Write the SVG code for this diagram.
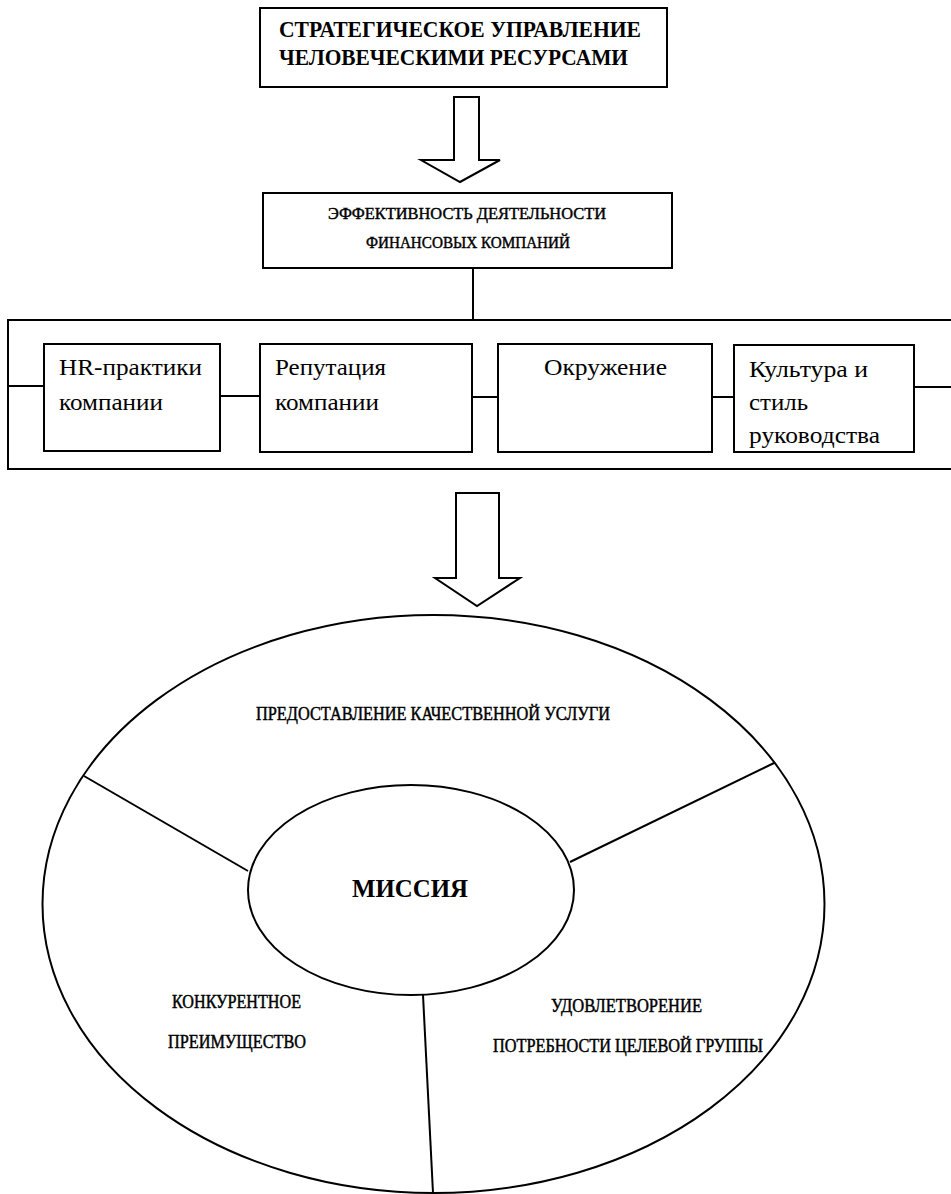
<svg xmlns="http://www.w3.org/2000/svg" width="951" height="1194" viewBox="0 0 951 1194">
<style>
.box{fill:#fff;stroke:#000;stroke-width:2}
.ln{fill:none;stroke:#000;stroke-width:2}
.t{font-family:"Liberation Serif","DejaVu Serif","Times New Roman",serif;fill:#000}
.tc{font-family:"Liberation Serif","DejaVu Serif","Times New Roman",serif;fill:#000;stroke:#000;stroke-width:0.45}
.tb{font-family:"Liberation Serif","DejaVu Serif","Times New Roman",serif;font-weight:bold;fill:#000}
.arrow{fill:#fff;stroke:#000;stroke-width:2;stroke-linejoin:miter}
</style>
<rect width="951" height="1194" fill="#fff"/>
<g id="connectors">
<polygon class="arrow" points="454,97 479,97 479,160 500,160 460,182 421,160 454,160"/>
<line class="ln" x1="473" y1="268" x2="473" y2="320"/>
<path class="ln" d="M951,320 H8 V469 H951"/>
<line class="ln" x1="8" y1="386" x2="44" y2="386"/>
<line class="ln" x1="220" y1="396" x2="260" y2="396"/>
<line class="ln" x1="472" y1="397" x2="498" y2="397"/>
<line class="ln" x1="712" y1="397" x2="734" y2="397"/>
<line class="ln" x1="914" y1="387" x2="951" y2="387"/>
<polygon class="arrow" points="456,493 499,493 499,578 520,578 477,606 435,578 456,578"/>
</g>
<g id="strategic">
<rect class="box" x="260" y="8" width="407" height="79"/>
<text class="tb" font-size="23" x="279" y="37" textLength="362" lengthAdjust="spacingAndGlyphs">СТРАТЕГИЧЕСКОЕ УПРАВЛЕНИЕ</text>
<text class="tb" font-size="23" x="279" y="65" textLength="349" lengthAdjust="spacingAndGlyphs">ЧЕЛОВЕЧЕСКИМИ РЕСУРСАМИ</text>
</g>
<g id="efficiency">
<rect class="box" x="263" y="193" width="409" height="75"/>
<text class="tc" font-size="17" x="328" y="219" textLength="278" lengthAdjust="spacingAndGlyphs">ЭФФЕКТИВНОСТЬ ДЕЯТЕЛЬНОСТИ</text>
<text class="tc" font-size="17" x="366" y="248" textLength="204" lengthAdjust="spacingAndGlyphs">ФИНАНСОВЫХ КОМПАНИЙ</text>
</g>
<g id="hr">
<rect class="box" x="44" y="344" width="176" height="107"/>
<text class="t" font-size="23" x="59" y="375" textLength="143" lengthAdjust="spacingAndGlyphs">HR-практики</text>
<text class="t" font-size="23" x="59" y="410" textLength="104" lengthAdjust="spacingAndGlyphs">компании</text>
</g>
<g id="reputation">
<rect class="box" x="260" y="344" width="212" height="108"/>
<text class="t" font-size="23" x="275" y="375" textLength="111" lengthAdjust="spacingAndGlyphs">Репутация</text>
<text class="t" font-size="23" x="275" y="410" textLength="104" lengthAdjust="spacingAndGlyphs">компании</text>
</g>
<g id="environment">
<rect class="box" x="498" y="344" width="214" height="108"/>
<text class="t" font-size="23" x="544" y="375" textLength="123" lengthAdjust="spacingAndGlyphs">Окружение</text>
</g>
<g id="culture">
<rect class="box" x="734" y="345" width="180" height="107"/>
<text class="t" font-size="23" x="749" y="377" textLength="119" lengthAdjust="spacingAndGlyphs">Культура и</text>
<text class="t" font-size="23" x="749" y="410" textLength="59" lengthAdjust="spacingAndGlyphs">стиль</text>
<text class="t" font-size="23" x="749" y="443" textLength="131" lengthAdjust="spacingAndGlyphs">руководства</text>
</g>
<g id="outer-ellipse">
<ellipse class="ln" cx="433.5" cy="904" rx="391" ry="289"/>
<line class="ln" x1="84" y1="776" x2="248" y2="871"/>
<line class="ln" x1="774" y1="763" x2="570" y2="862"/>
<line class="ln" x1="423" y1="995" x2="433" y2="1193"/>
<text class="tc" font-size="18" x="256" y="720" textLength="354" lengthAdjust="spacingAndGlyphs">ПРЕДОСТАВЛЕНИЕ КАЧЕСТВЕННОЙ УСЛУГИ</text>
<text class="tc" font-size="18" x="172" y="1008" textLength="129" lengthAdjust="spacingAndGlyphs">КОНКУРЕНТНОЕ</text>
<text class="tc" font-size="18" x="168" y="1048" textLength="138" lengthAdjust="spacingAndGlyphs">ПРЕИМУЩЕСТВО</text>
<text class="tc" font-size="18" x="551" y="1012" textLength="151" lengthAdjust="spacingAndGlyphs">УДОВЛЕТВОРЕНИЕ</text>
<text class="tc" font-size="18" x="493" y="1052" textLength="270" lengthAdjust="spacingAndGlyphs">ПОТРЕБНОСТИ ЦЕЛЕВОЙ ГРУППЫ</text>
</g>
<g id="mission">
<ellipse class="box" cx="411" cy="890" rx="163" ry="105"/>
<text class="tb" font-size="26" x="352" y="897" textLength="116" lengthAdjust="spacingAndGlyphs">МИССИЯ</text>
</g>
</svg>
